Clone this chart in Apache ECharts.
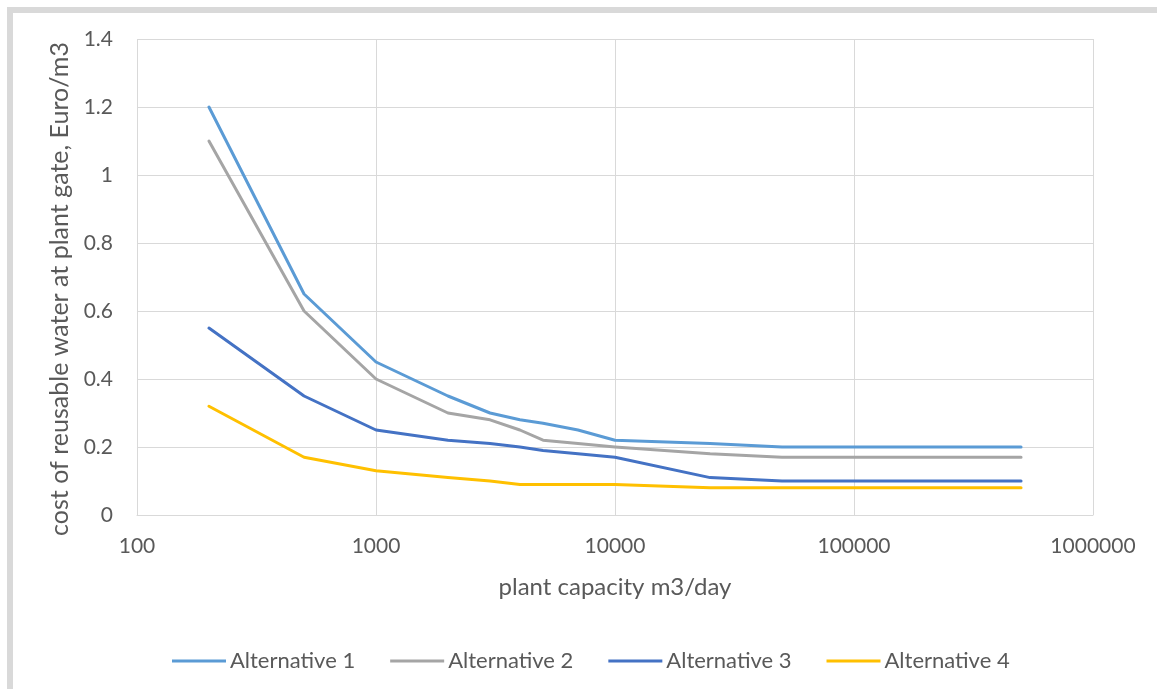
<!DOCTYPE html>
<html>
<head>
<meta charset="utf-8">
<script src="https://cdn.jsdelivr.net/npm/echarts@6/dist/echarts.min.js"></script>
<style>
  html, body { margin: 0; padding: 0; background: #ffffff; }
  #chart { width: 1157px; height: 689px; }
</style>
</head>
<body>
<div id="chart"></div>
<script>
// Plant capacity (m3/day) sampled for each cost curve
const capacities = [200, 500, 1000, 2000, 3000, 4000, 5000, 7000, 10000, 25000, 50000, 500000];

// Cost of reusable water at plant gate (Euro/m3)
const alternative1 = [1.20, 0.65, 0.45, 0.35, 0.30, 0.28, 0.27, 0.25, 0.22, 0.21, 0.20, 0.20];
const alternative2 = [1.10, 0.60, 0.40, 0.30, 0.28, 0.25, 0.22, 0.21, 0.20, 0.18, 0.17, 0.17];
const alternative3 = [0.55, 0.35, 0.25, 0.22, 0.21, 0.20, 0.19, 0.18, 0.17, 0.11, 0.10, 0.10];
const alternative4 = [0.32, 0.17, 0.13, 0.11, 0.10, 0.09, 0.09, 0.09, 0.09, 0.08, 0.08, 0.08];

const seriesNames = ['Alternative 1', 'Alternative 2', 'Alternative 3', 'Alternative 4'];
const seriesValues = [alternative1, alternative2, alternative3, alternative4];
const seriesColors = ['#5B9BD5', '#A5A5A5', '#4472C4', '#FFC000'];

const FONT = 'Lato, "Open Sans", sans-serif';
const TEXT = '#595959';

const chart = echarts.init(document.getElementById('chart'), null, { renderer: 'canvas' });

chart.setOption({
  backgroundColor: '#ffffff',
  animation: false,
  textStyle: { fontFamily: FONT, color: TEXT },
  graphic: [
    // frame bands along the top and left edges
    { type: 'rect', shape: { x: 7, y: 7, width: 1150, height: 6 }, style: { fill: '#d9d9d9' }, silent: true },
    { type: 'rect', shape: { x: 7, y: 7, width: 6, height: 682 }, style: { fill: '#d9d9d9' }, silent: true }
  ],
  grid: { left: 137, right: 64, top: 39, bottom: 174 },
  legend: {
    left: 167,
    top: 645,
    icon: 'rect',
    itemWidth: 54,
    itemHeight: 3,
    itemGap: 35,
    textStyle: { fontFamily: FONT, fontSize: 22, color: TEXT, padding: [0, 0, 0, -1] },
    data: seriesNames
  },
  xAxis: {
    type: 'log',
    logBase: 10,
    min: 100,
    max: 1000000,
    name: 'plant capacity m3/day',
    nameLocation: 'middle',
    nameGap: 60,
    nameTextStyle: { fontFamily: FONT, fontSize: 24, color: TEXT },
    axisLine: { show: true, lineStyle: { color: '#d9d9d9', width: 1 } },
    axisTick: { show: false },
    axisLabel: {
      fontFamily: FONT, fontSize: 21, color: TEXT, margin: 21,
      formatter: v => String(Math.round(v))
    },
    splitLine: { show: true, lineStyle: { color: '#d9d9d9', width: 1 } },
    minorTick: { show: false },
    minorSplitLine: { show: false }
  },
  yAxis: {
    type: 'value',
    min: 0,
    max: 1.4,
    interval: 0.2,
    name: 'cost of reusable water at plant gate, Euro/m3',
    nameLocation: 'middle',
    nameGap: 62,
    nameTextStyle: { fontFamily: FONT, fontSize: 25, color: TEXT, padding: [0, 24, 0, 0] },
    axisLine: { show: false },
    axisTick: { show: false },
    axisLabel: {
      fontFamily: FONT, fontSize: 21, color: TEXT, margin: 24,
      formatter: v => String(Math.round(v * 10) / 10)
    },
    splitLine: { show: true, lineStyle: { color: '#d9d9d9', width: 1 } }
  },
  series: seriesNames.map((name, i) => ({
    name: name,
    type: 'line',
    data: capacities.map((c, j) => [c, seriesValues[i][j]]),
    showSymbol: false,
    symbol: 'none',
    lineStyle: { color: seriesColors[i], width: 3, cap: 'round', join: 'round' },
    itemStyle: { color: seriesColors[i] },
    z: 2
  }))
});
</script>
</body>
</html>
